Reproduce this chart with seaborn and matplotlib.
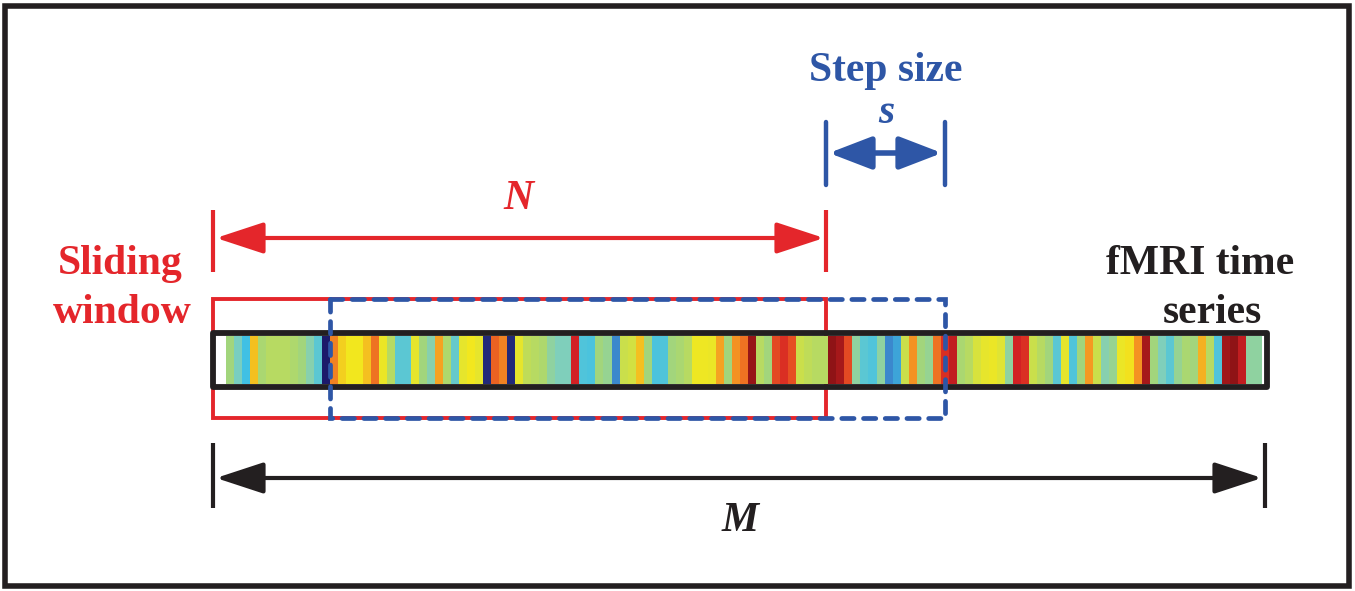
import numpy as np
import matplotlib
matplotlib.use("Agg")
import matplotlib.pyplot as plt
import seaborn as sns
from matplotlib.colors import LinearSegmentedColormap
from matplotlib.patches import Rectangle

# ---- data: colour value of each time point of the fMRI series (0 = navy ... 1 = dark red)
series_values = [
    np.nan, 0.45, 0.35, 0.25, 0.70, 0.47, 0.50, 0.50, 0.50, 0.48,
    0.45, 0.38, 0.30, 0.00, 0.78, 0.68, 0.65, 0.65, 0.70, 0.80,
    0.63, 0.50, 0.30, 0.30, 0.62, 0.45, 0.38, 0.74, 0.48, 0.32,
    0.62, 0.65, 0.62, 0.02, 0.82, 0.78, 0.02, 0.62, 0.52, 0.50,
    0.48, 0.40, 0.36, 0.36, 0.90, 0.28, 0.27, 0.45, 0.42, 0.15,
    0.55, 0.57, 0.70, 0.45, 0.27, 0.28, 0.45, 0.47, 0.50, 0.64,
    0.64, 0.63, 0.74, 0.45, 0.76, 0.80, 0.97, 0.50, 0.45, 0.85,
    0.88, 0.84, 0.55, 0.52, 0.50, 0.50, 0.98, 0.95, 0.85, 0.40,
    0.30, 0.28, 0.40, 0.15, 0.20, 0.55, 0.76, 0.45, 0.42, 0.80,
    0.88, 0.92, 0.47, 0.50, 0.58, 0.62, 0.63, 0.60, 0.40, 0.90,
    0.88, 0.55, 0.50, 0.45, 0.30, 0.62, 0.28, 0.45, 0.75, 0.55,
    0.38, 0.42, 0.63, 0.66, 0.76, 0.95, 0.45, 0.36, 0.30, 0.42,
    0.47, 0.45, 0.72, 0.50, 0.28, 0.96, 0.98, 0.92, 0.40, 0.40,
]
labels_window = ["Sliding", "window"]
labels_series = ["fMRI time", "series"]
label_step = "Step size"
sym_N, sym_s, sym_M = "N", "s", "M"

W, H = 1355, 591
RED = "#e4262b"
BLUE = "#2e56a6"
BLACK = "#231f20"

sns.set_theme(style="white")
plt.rcParams["font.family"] = ["Liberation Serif", "DejaVu Serif"]

fig = plt.figure(figsize=(W / 100, H / 100), dpi=100)
fig.patch.set_facecolor("white")

# background axes in pixel coordinates
ax = fig.add_axes([0, 0, 1, 1], zorder=0)
ax.set_xlim(0, W)
ax.set_ylim(H, 0)
ax.axis("off")

# strip (heatmap) axes
x0s, x1s, y0s, y1s = 218, 1262, 336, 384
axs = fig.add_axes([x0s / W, 1 - y1s / H, (x1s - x0s) / W, (y1s - y0s) / H], zorder=1)
cmap = LinearSegmentedColormap.from_list("fmri", [
    (0.00, "#1c1a6a"), (0.12, "#3a78c6"), (0.25, "#3fc0e4"), (0.36, "#7fcfbc"),
    (0.46, "#a6d676"), (0.56, "#cfe046"), (0.65, "#f2e81e"), (0.75, "#f59b22"),
    (0.83, "#ea5a22"), (0.90, "#d42124"), (1.00, "#7e1012")])
sns.heatmap(np.array([series_values]), ax=axs, cmap=cmap, vmin=0, vmax=1,
            cbar=False, xticklabels=False, yticklabels=False, linewidths=0)
axs.set_facecolor("white")
for sp in axs.spines.values():
    sp.set_visible(False)

# foreground axes
axf = fig.add_axes([0, 0, 1, 1], zorder=2)
axf.set_xlim(0, W)
axf.set_ylim(H, 0)
axf.axis("off")
axf.patch.set_alpha(0)

# outer frame
ax.add_patch(Rectangle((5, 6), 1344, 580, fill=False, ec=BLACK, lw=4))

# red sliding window (under strip)
ax.add_patch(Rectangle((213, 299), 826 - 213, 418 - 299, fill=False, ec=RED, lw=2.8))

# black strip border and blue dashed window (over strip)
axf.add_patch(Rectangle((213, 333), 1267 - 213, 387 - 333, fill=False, ec=BLACK, lw=4.2,
                        joinstyle="round"))
axf.add_patch(Rectangle((330, 299), 945 - 330, 418 - 299, fill=False, ec=BLUE, lw=3.4,
                        linestyle=(0, (2.6, 2.0)), capstyle="round"))

def darrow(a, x1, x2, y, color, lw=3.0, hl=1.4, hw=0.46, ms=21):
    a.annotate("", xy=(x2, y), xytext=(x1, y),
               arrowprops=dict(arrowstyle=f"<|-|>,head_length={hl},head_width={hw}",
                               mutation_scale=ms, color=color, lw=lw,
                               shrinkA=0, shrinkB=0))

# N arrow
for xv in (213, 826):
    ax.plot([xv, xv], [210, 272], color=RED, lw=3, solid_capstyle="butt")
darrow(ax, 216, 824, 238, RED)
# s arrow
for xv in (826, 945):
    ax.plot([xv, xv], [122, 185], color=BLUE, lw=3.2, solid_capstyle="round")
darrow(ax, 829, 942, 153, BLUE, lw=4.0, hl=1.3, hw=0.5, ms=20)
# M arrow
for xv in (213, 1265):
    ax.plot([xv, xv], [443, 508], color=BLACK, lw=3, solid_capstyle="butt")
darrow(ax, 216, 1262, 478, BLACK)

# texts
fs = 30
ax.text(886, 71, label_step, color=BLUE, fontsize=fs, fontweight="bold", ha="center", va="center")
ax.text(886, 113, sym_s, color=BLUE, fontsize=fs, fontweight="bold", style="italic", ha="center", va="center")
ax.text(518, 199, sym_N, color=RED, fontsize=fs, fontweight="bold", style="italic", ha="center", va="center")
ax.text(740, 521, sym_M, color=BLACK, fontsize=fs, fontweight="bold", style="italic", ha="center", va="center")
ax.text(120, 264, labels_window[0], color=RED, fontsize=fs, fontweight="bold", ha="center", va="center")
ax.text(122, 313, labels_window[1], color=RED, fontsize=fs, fontweight="bold", ha="center", va="center")
ax.text(1200, 264, labels_series[0], color=BLACK, fontsize=fs, fontweight="bold", ha="center", va="center")
ax.text(1212, 313, labels_series[1], color=BLACK, fontsize=fs, fontweight="bold", ha="center", va="center")

fig.savefig("out.png", dpi=100, facecolor="white")
